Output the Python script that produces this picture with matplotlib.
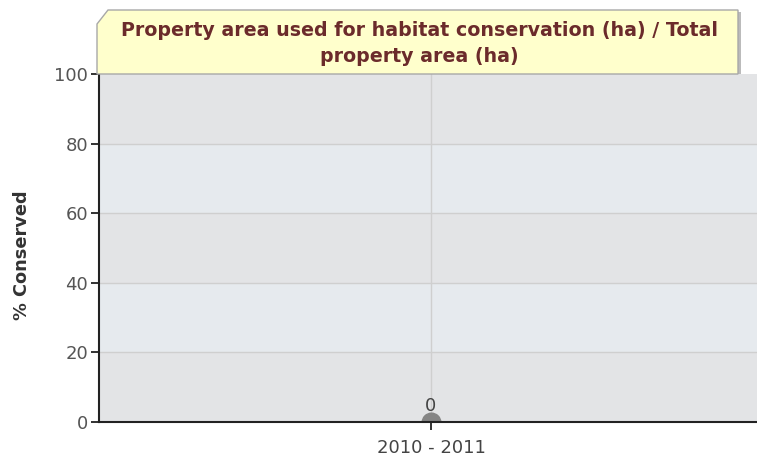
import matplotlib
matplotlib.use("Agg")
import matplotlib.pyplot as plt
from matplotlib.patches import Polygon

categories = ["2010 - 2011"]
values = [0]
y_ticks = [0, 20, 40, 60, 80, 100]
title = "Property area used for habitat conservation (ha) / Total\nproperty area (ha)"
ylabel = "% Conserved"

W, H = 757, 461
fig = plt.figure(figsize=(W/100, H/100), dpi=100)
fig.patch.set_facecolor("white")

ax = fig.add_axes([99/W, 1-422/H, (763-99)/W, (422-74)/H])
ax.set_xlim(-0.5, 0.5)
ax.set_ylim(0, 100)

# alternating bands
band_colors = ["#e3e4e6", "#e6eaee"]
for i in range(len(y_ticks)-1):
    ax.axhspan(y_ticks[i], y_ticks[i+1], color=band_colors[i % 2], zorder=0, lw=0)
for t in y_ticks[1:-1]:
    ax.axhline(t, color="#cfcfcf", lw=1, zorder=1)
for i in range(len(categories)):
    ax.axvline(i, color="#cfcfcf", lw=1, zorder=1)

# data marker: semicircle clipped at axis
xs = list(range(len(categories)))
ax.scatter(xs, values, s=180, color="#858585", zorder=3, clip_on=True)
for x, v in zip(xs, values):
    ax.annotate(str(v), (x, v), xytext=(0, 8), textcoords="offset points",
                ha="center", va="baseline", fontsize=13, color="#444444")

ax.set_xticks(xs)
ax.set_xticklabels(categories, fontsize=13, color="#444444")
ax.set_yticks(y_ticks)
ax.set_yticklabels([str(t) for t in y_ticks], fontsize=13, color="#555555")
ax.tick_params(axis="both", direction="out", length=6, width=1.3, color="#222222", pad=2)
ax.tick_params(axis="x", pad=6)
for s in ["top", "right"]:
    ax.spines[s].set_visible(False)
for s in ["left", "bottom"]:
    ax.spines[s].set_color("#222222")
    ax.spines[s].set_linewidth(1.5)
    ax.spines[s].set_zorder(5)
ax.set_ylabel(ylabel, fontsize=12.8, fontweight="bold", color="#333333")
ax.yaxis.set_label_coords(-0.103, 0.48)

# title box with cut corner
def fx(px): return px / W
def fy(py): return 1 - py / H
shadow = Polygon([(fx(99), fy(74)), (fx(99), fy(25)), (fx(110), fy(12)),
                  (fx(741), fy(12)), (fx(741), fy(74))],
                 closed=True, transform=fig.transFigure, facecolor="#bbbbbb",
                 edgecolor="none", zorder=9)
fig.patches.append(shadow)
box = Polygon([(fx(97), fy(74)), (fx(97), fy(24)), (fx(108), fy(10)),
               (fx(738), fy(10)), (fx(738), fy(74))],
              closed=True, transform=fig.transFigure, facecolor="#ffffcc",
              edgecolor="#a8a8a8", lw=1, zorder=10)
fig.patches.append(box)
fig.text(fx(419), fy(43.5), title, ha="center", va="center", fontsize=13.7,
         fontweight="bold", color="#6b2b2b", linespacing=1.42, zorder=11)

fig.savefig("out.png", dpi=100)
